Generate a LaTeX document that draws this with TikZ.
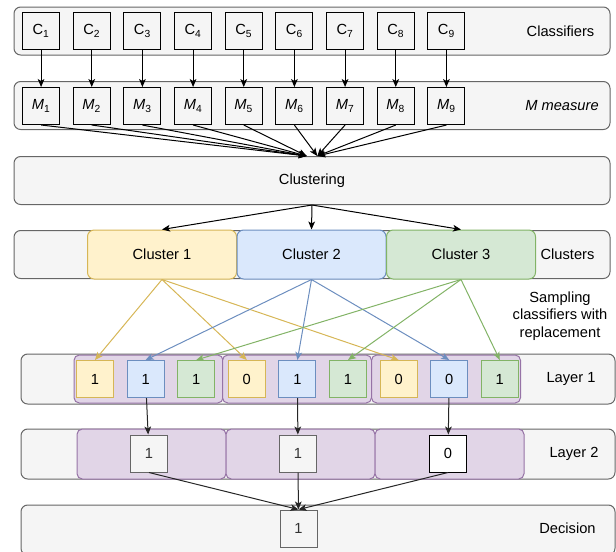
\documentclass[tikz,border=0pt]{standalone}
\usepackage{fontspec}
\setmainfont{Liberation Sans}
\usetikzlibrary{matrix,arrows.meta}

\definecolor{bandfill}{HTML}{F5F5F5}
\definecolor{bandline}{HTML}{666666}
\definecolor{yelfill}{HTML}{FFF2CC}
\definecolor{yelline}{HTML}{D6B656}
\definecolor{blufill}{HTML}{DAE8FC}
\definecolor{bluline}{HTML}{6C8EBF}
\definecolor{grnfill}{HTML}{D5E8D4}
\definecolor{grnline}{HTML}{82B366}
\definecolor{purfill}{HTML}{E1D5E7}
\definecolor{purline}{HTML}{9673A6}
\definecolor{txt}{HTML}{333333}

\tikzset{
	band/.style={draw=bandline, fill=bandfill, rounded corners=5pt,
		minimum width=447pt, minimum height=36pt, inner sep=0pt},
	wideband/.style={band, minimum width=445.5pt, minimum height=37.5pt},
	cell/.style={draw, minimum size=27.75pt, inner sep=0pt},
	clus/.style={rounded corners=5pt, minimum width=111.75pt, minimum height=36.75pt},
	grp/.style={draw=purline, fill=purfill, rounded corners=4pt,
		minimum width=111.75pt, minimum height=36pt},
	yel/.style={draw=yelline, fill=yelfill},
	blu/.style={draw=bluline, fill=blufill},
	grn/.style={draw=grnline, fill=grnfill},
	gry/.style={draw=bandline, fill=bandfill, text=txt},
	arr/.style={-{Stealth[length=6pt,width=5pt,inset=1.5pt]}}
}

\begin{document}
\begin{tikzpicture}[x=0.75pt, y=-0.75pt, line width=0.75pt,
	font=\fontsize{11}{13.2}\selectfont]
			\useasboundingbox (0,0) rectangle (616,551);

			% rows
			\node[band] (clf) at (312,31) {};
			\node[band] (meas) at (312,105.5) {};
			\node[band] (clust) at (312,180.5) {Clustering};
			\node[band] (cl) at (312,254.5) {};
			\node[wideband] (lay1) at (318,379) {};
			\node[wideband] (lay2) at (318,454) {};
			\node[wideband] (dec) at (318,530) {};

			\node (lclf) at (560.5,31) {Classifiers};
			\node (lmeas) at (562,105.5) {\textit{M measure}};
			\node (lcl) at (567.5,254.5) {Clusters};
			\node[align=center] (lsamp) at (560,316) {Sampling\\classifiers with\\replacement};
			\node (llay1) at (571,379) {Layer 1};
			\node (llay2) at (574,454) {Layer 2};
			\node (ldec) at (567.5,528) {Decision};

			% clusters and groups
			\node[clus, yel] (k1) at (162,254.5) {Cluster 1};
			\node[clus, blu] (k2) at (311.5,254.5) {Cluster 2};
			\node[clus, grn] (k3) at (461,254.5) {Cluster 3};

			\node[grp] (g1) at (148.5,379) {};
			\node[grp] (g2) at (297,379) {};
			\node[grp] (g3) at (446,379) {};
			\node[grp, minimum height=37.5pt] (h1) at (151.5,454) {};
			\node[grp, minimum height=37.5pt] (h2) at (300.5,454) {};
			\node[grp, minimum height=37.5pt] (h3) at (449.5,454) {};

			\matrix (b) [matrix of nodes, nodes={cell}, column sep=9.5pt,
				row sep=27.75pt] at (243.75,68.5)
			{
				C\textsubscript{1} & C\textsubscript{2} & C\textsubscript{3} & C\textsubscript{4} & C\textsubscript{5} & C\textsubscript{6} & C\textsubscript{7} & C\textsubscript{8} & C\textsubscript{9} \\
				\textit{M}\textsubscript{1} & \textit{M}\textsubscript{2} & \textit{M}\textsubscript{3} & \textit{M}\textsubscript{4} & \textit{M}\textsubscript{5} & \textit{M}\textsubscript{6} & \textit{M}\textsubscript{7} & \textit{M}\textsubscript{8} & \textit{M}\textsubscript{9} \\
			};

			\matrix (l) [matrix of nodes, nodes={cell}, column sep=9.45pt] at (297.4,379)
			{
				|[yel]| 1 & |[blu]| 1 & |[grn]| 1 & |[yel]| 0 & |[blu]| 1 & |[grn]| 1 & |[yel]| 0 & |[blu]| 0 & |[grn]| 1 \\
			};

			\node[cell, gry] (q1) at (149,453.5) {1};
			\node[cell, gry] (q2) at (298,453.5) {1};
			\node[cell, fill=white] (q3) at (448,453.5) {0};
			\node[cell, gry] (d) at (298.5,528.5) {1};

			\path[arr]
			(b-1-1) edge (b-2-1)
			(b-1-2) edge (b-2-2)
			(b-1-3) edge (b-2-3)
			(b-1-4) edge (b-2-4)
			(b-1-5) edge (b-2-5)
			(b-1-6) edge (b-2-6)
			(b-1-7) edge (b-2-7)
			(b-1-8) edge (b-2-8)
			(b-1-9) edge (b-2-9)
			(b-2-1.south) edge ([xshift=-4pt]clust.north)
			(b-2-2.south) edge ([xshift=-4pt]clust.north)
			(b-2-3.south) edge ([xshift=-4pt]clust.north)
			(b-2-4.south) edge ([xshift=-4pt]clust.north)
			(b-2-5.south) edge ([xshift=-4pt]clust.north)
			(b-2-6.south) edge ([xshift=4pt]clust.north)
			(b-2-7.south) edge ([xshift=4pt]clust.north)
			(b-2-8.south) edge ([xshift=4pt]clust.north)
			(b-2-9.south) edge ([xshift=4pt]clust.north)
			(clust.south) edge (k1.north) edge (k2.north) edge (k3.north);

			\path[arr, yelline]
			(k1.south) edge (l-1-1.north) edge (l-1-4.north) edge (l-1-7.north);
			\path[arr, bluline]
			(k2.south) edge (l-1-2.north) edge (l-1-5.north) edge (l-1-8.north);
			\path[arr, grnline]
			(k3.south) edge (l-1-3.north) edge (l-1-6.north) edge (l-1-9.north);

			\path[arr, black!85]
			(l-1-2) edge (q1)
			(l-1-5) edge (q2)
			(l-1-8) edge (q3)
			(q1.south) edge (d.north)
			(q2) edge (d)
			(q3.south) edge (d.north);
		\end{tikzpicture}
\end{document}
